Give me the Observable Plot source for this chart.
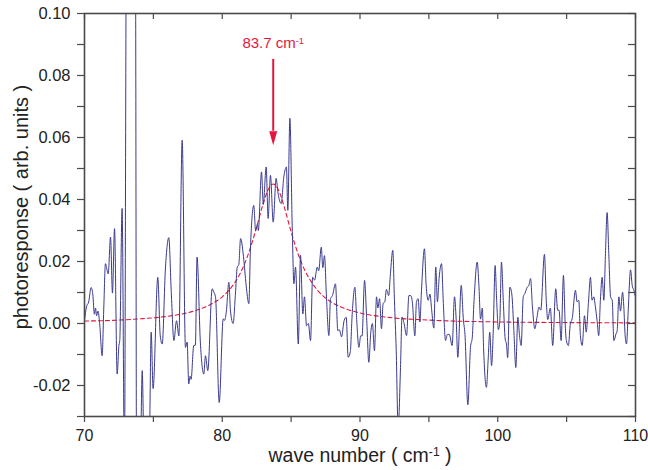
<!DOCTYPE html>
<html><head><meta charset="utf-8">
<script src="https://cdn.jsdelivr.net/npm/d3@7"></script>
<script src="https://cdn.jsdelivr.net/npm/@observablehq/plot@0.6"></script>
<style>body{margin:0;background:#fff} svg{display:block}</style>
</head><body><div id="chart"></div>
<script>
// measured spectrum (wave number in cm-1, photoresponse in arb. units)
const wave = [70.00,70.15,70.30,70.48,70.60,70.72,70.80,70.88,70.98,71.10,71.28,71.40,71.52,71.65,71.72,71.89,72.03,72.18,72.37,72.50,72.56,72.73,72.90,73.05,73.40,73.70,73.78,74.05,74.19,74.34,74.70,74.84,74.98,75.32,75.50,75.64,75.88,76.12,76.30,76.49,76.68,76.85,77.09,77.33,77.45,77.57,77.66,77.74,77.93,78.05,78.17,78.41,78.66,78.78,78.95,79.27,79.40,79.51,79.78,80.07,80.17,80.30,80.48,80.60,80.79,80.95,81.09,81.20,81.33,81.57,81.76,81.93,82.05,82.29,82.42,82.55,82.62,82.85,82.98,83.19,83.33,83.50,83.70,83.91,84.05,84.28,84.47,84.66,84.76,84.91,85.08,85.20,85.32,85.52,85.68,85.85,85.97,86.12,86.25,86.41,86.56,86.70,86.90,87.00,87.19,87.30,87.42,87.57,87.74,87.86,88.00,88.22,88.39,88.50,88.66,88.85,89.00,89.14,89.30,89.42,89.63,89.75,89.92,90.05,90.15,90.33,90.48,90.64,90.78,90.90,91.05,91.20,91.30,91.42,91.56,91.68,91.80,91.92,92.08,92.21,92.38,92.50,92.63,92.77,92.94,93.05,93.20,93.38,93.55,93.68,93.80,93.98,94.10,94.22,94.35,94.45,94.68,94.80,94.95,95.08,95.20,95.36,95.50,95.62,95.75,95.92,96.05,96.21,96.35,96.48,96.69,96.86,96.98,97.10,97.35,97.50,97.62,97.83,98.02,98.15,98.28,98.51,98.63,98.75,98.88,98.97,99.18,99.30,99.42,99.55,99.67,99.81,99.92,100.05,100.15,100.27,100.40,100.54,100.63,100.72,100.88,101.02,101.17,101.31,101.46,101.58,101.70,101.85,101.97,102.14,102.26,102.38,102.52,102.69,102.85,102.99,103.12,103.39,103.52,103.63,103.82,103.99,104.21,104.35,104.45,104.60,104.77,104.89,104.98,105.13,105.27,105.40,105.64,105.76,105.88,106.00,106.13,106.30,106.42,106.58,106.73,106.85,106.97,107.09,107.21,107.33,107.45,107.58,107.70,107.82,107.94,108.06,108.19,108.31,108.43,108.58,108.67,108.79,108.91,109.06,109.15,109.25,109.35,109.47,109.64,109.76,109.88,110.00];
const response = [0.0010,0.0055,0.0069,0.0116,0.0095,0.0030,0.0050,0.0025,0.0040,0.0000,-0.0104,0.0050,0.0193,0.0170,0.0160,0.0279,0.0098,0.0306,-0.0163,-0.0070,-0.0055,0.0371,-0.0450,0.1300,0.1400,0.1200,-0.0500,-0.0450,-0.0152,-0.0450,-0.0400,-0.0028,-0.0210,0.0149,-0.0040,-0.0066,0.0182,0.0277,0.0100,-0.0055,0.0009,-0.0040,0.0591,-0.0077,-0.0060,-0.0195,-0.0170,-0.0180,-0.0071,-0.0070,0.0214,-0.0060,-0.0163,-0.0104,-0.0152,0.0112,0.0100,0.0086,-0.0255,0.0015,0.0010,0.0040,0.0133,0.0040,0.0000,0.0090,0.0182,0.0190,0.0274,0.0203,0.0112,0.0064,0.0246,0.0381,0.0300,0.0320,0.0300,0.0489,0.0384,0.0505,0.0339,0.0478,0.0327,0.0468,0.0420,0.0387,0.0473,0.0505,0.0365,0.0662,0.0311,0.0128,0.0182,-0.0066,0.0220,0.0031,0.0086,-0.0007,0.0000,-0.0055,0.0149,0.0140,0.0182,0.0170,0.0246,0.0180,0.0219,0.0080,-0.0039,0.0080,0.0090,0.0128,-0.0023,-0.0020,-0.0043,0.0010,0.0020,-0.0109,-0.0090,0.0020,0.0117,0.0020,-0.0077,-0.0040,-0.0040,0.0139,0.0020,-0.0125,-0.0030,0.0000,-0.0088,0.0086,0.0050,0.0080,-0.0017,0.0065,0.0070,0.0110,0.0090,0.0161,0.0236,0.0075,-0.0088,-0.0340,-0.0142,0.0021,0.0000,-0.0039,0.0090,0.0090,0.0070,-0.0040,0.0070,0.0080,0.0005,0.0095,0.0241,0.0125,0.0075,0.0095,0.0045,-0.0015,0.0182,0.0070,0.0150,0.0193,0.0065,-0.0055,-0.0035,-0.0035,-0.0071,0.0086,0.0015,-0.0109,0.0123,0.0015,-0.0035,-0.0262,-0.0077,-0.0045,0.0075,0.0198,0.0125,0.0014,0.0050,-0.0077,-0.0206,-0.0120,-0.0028,-0.0136,-0.0030,0.0187,0.0075,-0.0020,0.0010,0.0198,0.0075,-0.0050,-0.0066,-0.0110,0.0117,0.0095,-0.0023,-0.0142,0.0020,-0.0039,-0.0071,0.0086,0.0097,0.0117,0.0123,0.0145,0.0053,-0.0017,0.0020,0.0053,0.0043,0.0223,0.0075,0.0013,0.0050,-0.0071,0.0112,0.0043,0.0043,-0.0055,0.0155,0.0005,-0.0055,-0.0071,0.0000,0.0015,0.0107,0.0070,0.0075,-0.0039,-0.0071,0.0025,-0.0028,0.0064,0.0149,0.0075,0.0086,0.0053,0.0010,-0.0039,0.0075,0.0149,0.0075,0.0226,0.0358,0.0226,0.0086,0.0075,-0.0055,-0.0034,-0.0023,0.0086,0.0040,0.0101,0.0055,-0.0040,-0.0066,0.0040,0.0173,0.0123,0.0107,0.0086];

// dashed fit curve
const fitWave = [70,72,74,76,77,78,79,80,80.5,81,81.5,82,82.5,83,83.3,83.7,84.1,84.5,85,85.5,86,86.5,87,87.5,88,89,90,92,95,100,105,110];
const fitResponse = [0.0008,0.0010,0.0015,0.0023,0.0030,0.0041,0.0058,0.0086,0.0108,0.0138,0.0180,0.0238,0.0312,0.0391,0.0429,0.0450,0.0429,0.0376,0.0296,0.0225,0.0171,0.0132,0.0103,0.0082,0.0067,0.0047,0.0034,0.0020,0.0011,0.0005,0.0003,0.0002];

// axes
const xTicks = [70, 80, 90, 100, 110];
const xAllTicks = [70, 75, 80, 85, 90, 95, 100, 105, 110];
const yTicks = [-0.02, 0.00, 0.02, 0.04, 0.06, 0.08, 0.10];
const yAllTicks = [-0.03, -0.02, -0.01, 0.00, 0.01, 0.02, 0.03, 0.04, 0.05, 0.06, 0.07, 0.08, 0.09, 0.10];
const xLabel = ["wave number ( cm-1 )"];
const yLabel = ["photoresponse ( arb. units )"];

// peak annotation
const peakLabel = ["83.7 cm-1"];
const peakX = [83.7];
const labelY = [0.0905];
const arrowTop = [0.0852];
const arrowBottom = [0.0620];
const arrowTip = [0.0575];

const W = 648, H = 470, mL = 84, mR = 13, mT = 13, mB = 54;
const pw = W - mL - mR, ph = H - mT - mB;
const red = "#e3173e", blue = "#3a3a8e", frameColor = "#4a4a4a";

const headSymbol = {draw(ctx) { ctx.moveTo(-4, -14); ctx.lineTo(4, -14); ctx.lineTo(0, 0); ctx.closePath(); }};

const spectrum = wave.map((x, i) => ({x, y: response[i]}));
const fit = fitWave.map((x, i) => ({x, y: fitResponse[i]}));

const chart = Plot.plot({
  width: W, height: H,
  marginLeft: mL, marginRight: mR, marginTop: mT, marginBottom: mB,
  style: {fontFamily: "'Liberation Sans', Arial, sans-serif", fontSize: "16px", color: "#222", background: "#fff"},
  x: {domain: [70, 110]},
  y: {domain: [-0.03, 0.10]},
  marks: [
    Plot.line(fit, {x: "x", y: "y", stroke: red, strokeWidth: 1.1, strokeDasharray: "4,3", curve: "monotone-x", clip: true}),
    Plot.line(spectrum, {x: "x", y: "y", stroke: blue, strokeWidth: 1, curve: "monotone-x", clip: true}),
    // ticks: left & bottom outward, right & top pointing the same way (inward)
    Plot.tickY(yAllTicks, {y: d => d, stroke: frameColor, strokeWidth: 1.2, insetLeft: -7, insetRight: pw}),
    Plot.tickY(yAllTicks, {y: d => d, stroke: frameColor, strokeWidth: 1.2, insetLeft: pw - 7}),
    Plot.tickX(xAllTicks, {x: d => d, stroke: frameColor, strokeWidth: 1.2, insetTop: ph, insetBottom: -6}),
    Plot.tickX(xAllTicks, {x: d => d, stroke: frameColor, strokeWidth: 1.2, insetBottom: ph - 6}),
    Plot.frame({stroke: frameColor, strokeWidth: 1.6}),
    Plot.axisY({ticks: yTicks, tickSize: 0, tickPadding: 14, tickFormat: d => d.toFixed(2), label: null, fontSize: 16.5}),
    Plot.axisX({ticks: xTicks, tickSize: 0, tickPadding: 13, tickFormat: d => String(d), label: null, fontSize: 16}),
    // axis titles
    Plot.text(xLabel, {frameAnchor: "bottom", dy: 45, fontSize: 19.5, fill: "#222"}),
    Plot.text(yLabel, {frameAnchor: "left", textAnchor: "middle", dx: -63, dy: -8, rotate: -90, fontSize: 20, fill: "#222"}),
    // annotation
    Plot.ruleX(peakX, {x: d => d, y1: arrowTop, y2: arrowBottom, stroke: red, strokeWidth: 2}),
    Plot.dot(peakX, {x: d => d, y: arrowTip, symbol: headSymbol, fill: red, stroke: null}),
    Plot.text(peakLabel, {x: peakX, y: labelY, fill: red, fontSize: 15, textAnchor: "middle"})
  ]
});

// superscripts for cm-1
chart.querySelectorAll("text").forEach(t => {
  if (t.children.length === 0 && t.textContent.includes("cm-1")) {
    const [before, after] = t.textContent.split("cm-1");
    t.textContent = "";
    const ns = "http://www.w3.org/2000/svg";
    const a = document.createElementNS(ns, "tspan"); a.textContent = before + "cm"; t.appendChild(a);
    const s = document.createElementNS(ns, "tspan"); s.textContent = "-1"; s.setAttribute("dy", "-0.45em"); s.setAttribute("font-size", "0.62em"); t.appendChild(s);
    if (after) { const b = document.createElementNS(ns, "tspan"); b.textContent = after; b.setAttribute("dy", "0.28em"); t.appendChild(b); }
  }
});
document.getElementById("chart").appendChild(chart);
</script>
</body></html>
